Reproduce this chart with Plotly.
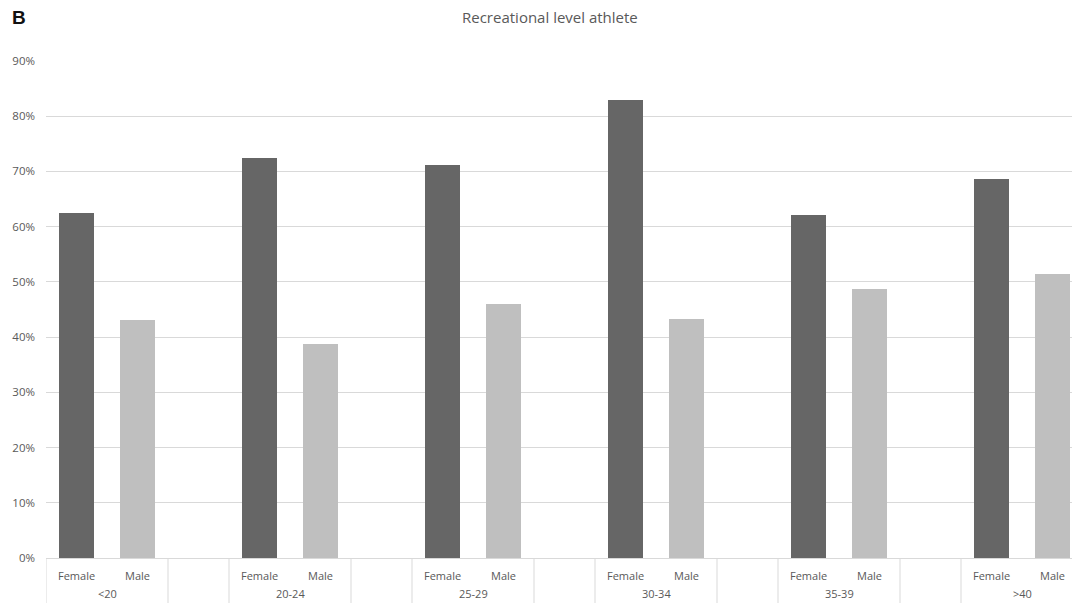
import plotly.graph_objects as go

groups = ["<20", "20-24", "25-29", "30-34", "35-39", ">40"]
sexes = ["Female", "Male"]
female = [0.625, 0.725, 0.711, 0.830, 0.622, 0.687]
male = [0.431, 0.387, 0.460, 0.433, 0.488, 0.515]
y_ticks = [0, 0.1, 0.2, 0.3, 0.4, 0.5, 0.6, 0.7, 0.8, 0.9]
y_tick_text = ["0%", "10%", "20%", "30%", "40%", "50%", "60%", "70%", "80%", "90%"]

SLOTS = 3  # Female, Male, empty slot per group
xf = [SLOTS * i for i in range(len(groups))]
xm = [SLOTS * i + 1 for i in range(len(groups))]

W, H = 1072, 603
ML, MT, MB = 46, 61, 45
slot_px = 61.0
plot_w = W - ML
ph = H - MT - MB
x0 = -0.5
x1 = x0 + plot_w / slot_px

fig = go.Figure()
fig.add_trace(go.Bar(x=xf, y=female, width=0.57, marker=dict(color="#666666", line=dict(width=0)), name="Female"))
fig.add_trace(go.Bar(x=xm, y=male, width=0.57, marker=dict(color="#bfbfbf", line=dict(width=0)), name="Male"))

font_fam = "Open Sans, Lato, sans-serif"
grey = "#595959"
linec = "#d9d9d9"

shapes = []
annotations = []
for i, g in enumerate(groups):
    base = SLOTS * i
    for xv in (base - 0.5, base + 1.5):
        shapes.append(dict(type="line", xref="x", yref="paper", x0=xv, x1=xv, y0=0, y1=-(MB + 5) / ph,
                           line=dict(color=linec, width=1)))
    for j, s in enumerate(sexes):
        annotations.append(dict(x=base + j, y=-17 / ph, xref="x", yref="paper", text=s, showarrow=False,
                                font=dict(family=font_fam, size=11, color=grey), xanchor="center", yanchor="middle"))
    annotations.append(dict(x=base + 0.5, y=-35 / ph, xref="x", yref="paper", text=g, showarrow=False,
                            font=dict(family=font_fam, size=11, color=grey), xanchor="center", yanchor="middle"))

annotations.append(dict(x=(10 - ML) / plot_w, y=(H - MB - 18) / ph, xref="paper", yref="paper", text="<b>B</b>",
                        showarrow=False, xanchor="left", yanchor="middle",
                        font=dict(family="Liberation Sans, Arial", size=19, color="#111111")))
annotations.append(dict(x=(550 - ML) / plot_w, y=(H - MB - 17) / ph, xref="paper", yref="paper",
                        text="Recreational level athlete", showarrow=False, xanchor="center", yanchor="middle",
                        font=dict(family=font_fam, size=15, color=grey)))

fig.update_layout(
    width=W, height=H,
    margin=dict(l=ML, r=0, t=MT, b=MB, pad=0),
    paper_bgcolor="white", plot_bgcolor="white",
    showlegend=False,
    bargap=0,
    xaxis=dict(range=[x0, x1], showticklabels=False, showgrid=False, zeroline=False, showline=True,
               linecolor=linec, linewidth=1, ticks=""),
    yaxis=dict(range=[0, 0.9], tickvals=y_ticks, ticktext=y_tick_text, showgrid=True, gridcolor=linec, gridwidth=1,
               zeroline=False, showline=False, ticks="", ticklabelstandoff=10,
               tickfont=dict(family=font_fam, size=11.5, color=grey)),
    shapes=shapes,
    annotations=annotations,
)

fig.write_html("out.html")
